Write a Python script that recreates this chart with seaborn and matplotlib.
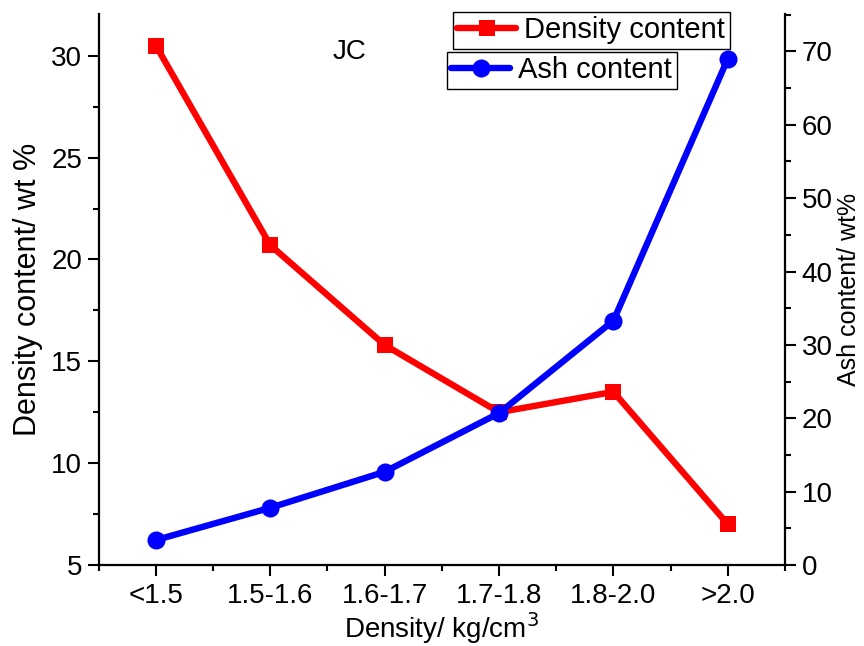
import numpy as np
import pandas as pd
import matplotlib
matplotlib.use("Agg")
import matplotlib.pyplot as plt
import seaborn as sns
from matplotlib.ticker import MultipleLocator, FixedLocator

categories = ["<1.5", "1.5-1.6", "1.6-1.7", "1.7-1.8", "1.8-2.0", ">2.0"]
density_content = [30.5, 20.7, 15.8, 12.5, 13.5, 7.0]
ash_content = [3.4, 7.8, 12.7, 20.7, 33.3, 69.0]

sns.set_theme(style="ticks")
plt.rcParams['font.family'] = ['Liberation Sans', 'DejaVu Sans']
plt.rcParams['text.color'] = 'black'
plt.rcParams['axes.labelcolor'] = 'black'
plt.rcParams['xtick.color'] = 'black'
plt.rcParams['ytick.color'] = 'black'

pos = np.arange(len(categories))
df = pd.DataFrame({"pos": pos, "cat": categories,
                   "density": density_content, "ash": ash_content})

fig = plt.figure(figsize=(8.64, 6.46), dpi=100)
ax = fig.add_axes([98.7/864, 1-565/646, (785-98.7)/864, (565-14)/646])
ax2 = ax.twinx()

sns.lineplot(data=df, x="pos", y="density", ax=ax, color="#ff0000", lw=4.6,
             marker="s", markersize=11.5, markeredgewidth=0, sort=False,
             label="Density content", legend=False)
sns.lineplot(data=df, x="pos", y="ash", ax=ax2, color="#0000ff", lw=4.6,
             marker="o", markersize=13, markeredgewidth=0, sort=False,
             label="Ash content", legend=False)

ax.set_xlim(-0.5, len(categories) - 0.5)
ax.set_ylim(5, 32.05)
ax2.set_ylim(0, 75.1)

ax.set_xticks(pos)
ax.set_xticklabels(categories)
ax.xaxis.set_minor_locator(FixedLocator(np.arange(-0.5, len(categories), 1.0)))
ax.yaxis.set_major_locator(MultipleLocator(5))
ax.yaxis.set_minor_locator(MultipleLocator(2.5))
ax2.yaxis.set_major_locator(MultipleLocator(10))
ax2.yaxis.set_minor_locator(MultipleLocator(5))

for a in (ax, ax2):
    a.tick_params(which="major", length=8, width=1.5, direction="out",
                  labelsize=20, colors="black", pad=4)
    a.tick_params(which="minor", length=4, width=1.5, direction="out",
                  colors="black")
    for s in a.spines.values():
        s.set_linewidth(1.6)
        s.set_color("black")
    a.spines["top"].set_visible(False)

ax.spines["right"].set_visible(False)
ax2.spines["left"].set_visible(False)
ax2.spines["bottom"].set_visible(False)
ax.tick_params(axis="x", labelsize=20, pad=5)

ax.set_xlabel("Density/ kg/cm$^3$", fontsize=20, labelpad=1, color="black")
ax.set_ylabel("Density content/ wt %", fontsize=22, labelpad=6, color="black")
ax2.set_ylabel("Ash content/ wt%", fontsize=18, labelpad=3, color="black")

ax.text(0.366, 0.931, "JC", transform=ax.transAxes, fontsize=20,
        ha="center", va="center", color="black")

h1, l1 = ax.get_legend_handles_labels()
h2, l2 = ax2.get_legend_handles_labels()
leg1 = fig.legend(h1, l1, loc="upper left", bbox_to_anchor=(453/864, 1-12/646),
                  fontsize=21, frameon=True, fancybox=False, edgecolor="black",
                  framealpha=1, handlelength=2.0, borderpad=0.15,
                  handletextpad=0.3, borderaxespad=0)
leg2 = fig.legend(h2, l2, loc="upper left", bbox_to_anchor=(447/864, 1-52/646),
                  fontsize=21, frameon=True, fancybox=False, edgecolor="black",
                  framealpha=1, handlelength=2.0, borderpad=0.15,
                  handletextpad=0.3, borderaxespad=0)
for lg in (leg1, leg2):
    lg.get_frame().set_linewidth(1.0)
    for t in lg.get_texts():
        t.set_color("black")

fig.savefig("out.png", dpi=100)
